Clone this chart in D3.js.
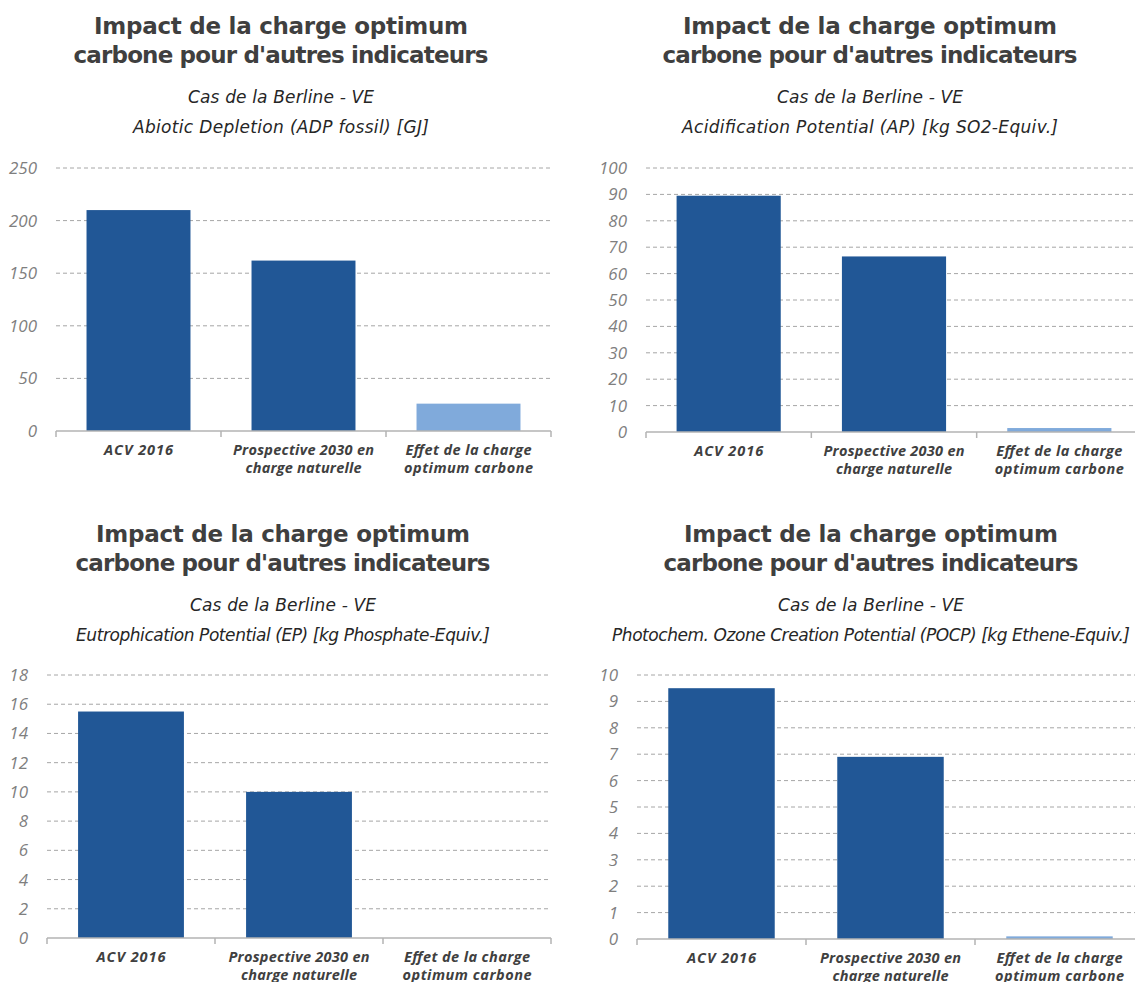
<!DOCTYPE html>
<html>
<head>
<meta charset="utf-8">
<script src="https://cdn.jsdelivr.net/npm/d3@7"></script>
<style>
  html, body { margin: 0; padding: 0; background: #ffffff; }
  svg { display: block; }
</style>
</head>
<body>
<svg id="chart" width="1135" height="982"></svg>
<script>
// ---------- DATA ----------
const mainTitle = ["Impact de la charge optimum", "carbone pour d'autres indicateurs"];
const caseLabel = "Cas de la Berline - VE";
const categories = ["ACV 2016", "Prospective 2030 en charge naturelle", "Effet de la charge optimum carbone"];
const categoryLines = [["ACV 2016"], ["Prospective 2030 en", "charge naturelle"], ["Effet de la charge", "optimum carbone"]];

const adpTitle = "Abiotic Depletion (ADP fossil) [GJ]";
const adpValues = [210, 162, 26];
const adpTicks = [0, 50, 100, 150, 200, 250];

const apTitle = "Acidification Potential (AP) [kg SO2-Equiv.]";
const apValues = [89.5, 66.5, 1.5];
const apTicks = [0, 10, 20, 30, 40, 50, 60, 70, 80, 90, 100];

const epTitle = "Eutrophication Potential (EP) [kg Phosphate-Equiv.]";
const epValues = [15.5, 10.0, 0];
const epTicks = [0, 2, 4, 6, 8, 10, 12, 14, 16, 18];

const pocpTitle = "Photochem. Ozone Creation Potential (POCP) [kg Ethene-Equiv.]";
const pocpValues = [9.5, 6.9, 0.1];
const pocpTicks = [0, 1, 2, 3, 4, 5, 6, 7, 8, 9, 10];

// ---------- LAYOUT / STYLE ----------
const barColors = ["#215796", "#215796", "#80aadb"];
const titleColor = "#3f3f3f";
const titleWidths = [374, 415];
const caseWidth = 186;
const catLineWidths = [[69], [141, 116], [126, 129]];
const panels = [
  { title: adpTitle,  titleW: 296, values: adpValues,  ticks: adpTicks,  left: 56,  right: 551,  top: 168, bottom: 431, cx: 281, oy: 0 },
  { title: apTitle,   titleW: 376, values: apValues,   ticks: apTicks,   left: 646, right: 1142, top: 168, bottom: 432, cx: 870, oy: 0 },
  { title: epTitle,   titleW: 414, values: epValues,   ticks: epTicks,   left: 47,  right: 551,  top: 675, bottom: 938, cx: 283, oy: 508 },
  { title: pocpTitle, titleW: 518, values: pocpValues, ticks: pocpTicks, left: 637, right: 1144, top: 675, bottom: 939, cx: 871, oy: 508 }
];

const svg = d3.select("#chart");
const TITLE_FONT = "'DejaVu Sans', 'Open Sans', sans-serif";
const SUB_FONT = "'DejaVu Sans', 'Open Sans', sans-serif";
const BODY_FONT = "'Open Sans', 'DejaVu Sans', sans-serif";

panels.forEach(p => {
  const g = svg.append("g");

  // titles
  mainTitle.forEach((ln, j) => {
    g.append("text")
      .attr("x", p.cx).attr("y", 34 + j * 29 + p.oy)
      .attr("text-anchor", "middle")
      .attr("font-family", TITLE_FONT).attr("font-weight", "bold")
      .attr("font-size", 23).attr("fill", titleColor)
      .attr("textLength", titleWidths[j]).attr("lengthAdjust", "spacing")
      .text(ln);
  });
  g.append("text")
    .attr("x", p.cx).attr("y", 103 + p.oy)
    .attr("text-anchor", "middle")
    .attr("font-family", SUB_FONT).attr("font-style", "italic")
    .attr("font-size", 17).attr("fill", "#262626")
    .attr("textLength", caseWidth).attr("lengthAdjust", "spacing")
    .text(caseLabel);
  g.append("text")
    .attr("x", p.cx).attr("y", 133 + p.oy)
    .attr("text-anchor", "middle")
    .attr("font-family", SUB_FONT).attr("font-style", "italic")
    .attr("font-size", 17).attr("fill", "#262626")
    .attr("textLength", p.titleW).attr("lengthAdjust", "spacing")
    .text(p.title);

  // scales
  const x = d3.scaleBand()
    .domain(categories)
    .range([p.left, p.right])
    .paddingInner(0.37)
    .paddingOuter(0.185);
  const y = d3.scaleLinear()
    .domain([0, d3.max(p.ticks)])
    .range([p.bottom, p.top]);

  // gridlines
  g.append("g").selectAll("line")
    .data(p.ticks.filter(t => t !== 0))
    .join("line")
    .attr("x1", p.left).attr("x2", p.right)
    .attr("y1", d => y(d)).attr("y2", d => y(d))
    .attr("stroke", "#a6a6a6").attr("stroke-width", 1)
    .attr("stroke-dasharray", "4,3");

  // bars
  g.append("g").selectAll("rect")
    .data(p.values.map((v, i) => ({ c: categories[i], v, i })))
    .join("rect")
    .attr("x", d => x(d.c))
    .attr("width", x.bandwidth())
    .attr("y", d => y(d.v))
    .attr("height", d => p.bottom - y(d.v))
    .attr("fill", d => barColors[d.i]);

  // y axis labels
  const yAxis = d3.axisLeft(y).tickValues(p.ticks).tickSize(0).tickPadding(19).tickFormat(d3.format("d"));
  const ya = g.append("g").attr("transform", `translate(${p.left},0)`).call(yAxis);
  ya.select(".domain").remove();
  ya.selectAll("text")
    .attr("font-family", BODY_FONT).attr("font-style", "italic")
    .attr("font-size", 17).attr("fill", "#7f7f7f");

  // x axis line with boundary ticks
  const step = x.step();
  g.append("line")
    .attr("x1", p.left).attr("x2", p.right)
    .attr("y1", p.bottom).attr("y2", p.bottom)
    .attr("stroke", "#b3b3b3").attr("stroke-width", 1.5);
  const bounds = d3.range(categories.length + 1).map(i => p.left + i * step);
  g.append("g").selectAll("line")
    .data(bounds)
    .join("line")
    .attr("x1", d => d).attr("x2", d => d)
    .attr("y1", p.bottom).attr("y2", p.bottom + 6)
    .attr("stroke", "#b3b3b3").attr("stroke-width", 1.5);

  // category labels
  categories.forEach((c, i) => {
    categoryLines[i].forEach((ln, j) => {
      g.append("text")
        .attr("text-anchor", "middle")
        .attr("x", x(c) + x.bandwidth() / 2)
        .attr("y", p.bottom + 24 + j * 18)
        .attr("font-family", BODY_FONT).attr("font-weight", "bold").attr("font-style", "italic")
        .attr("font-size", 14.5).attr("fill", "#404040")
        .attr("textLength", catLineWidths[i][j]).attr("lengthAdjust", "spacing")
        .text(ln);
    });
  });
});
</script>
</body>
</html>
